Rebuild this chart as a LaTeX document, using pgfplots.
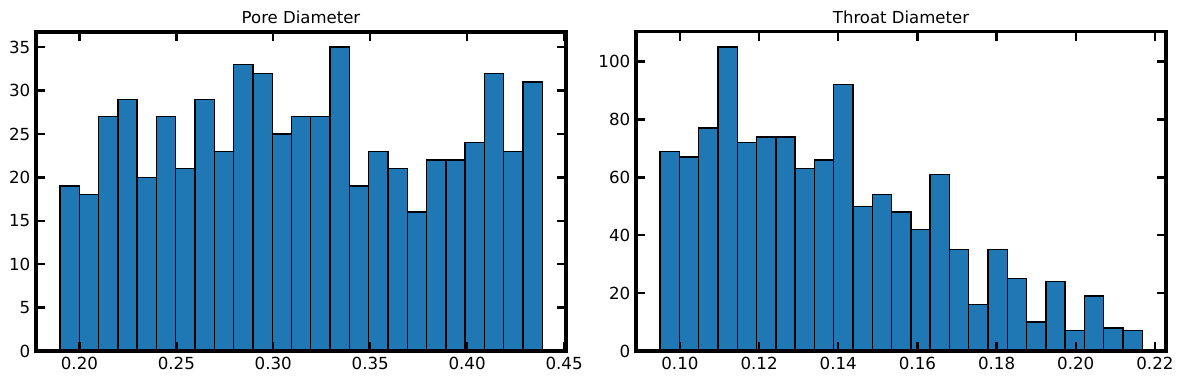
\documentclass[border=0pt]{standalone}
\usepackage{fontspec}
\setmainfont{DejaVu Sans}
\usepackage{pgfplots}
\pgfplotsset{compat=1.18}
\definecolor{mplblue}{HTML}{1F77B4}
\begin{document}
\fontsize{11.7}{14}\selectfont
\begin{tikzpicture}
\path[use as bounding box] (-25.92pt,-23.76pt) rectangle (825.84pt,252.72pt);
\pgfplotsset{
  hist/.style={
    scale only axis, width=381.6pt, height=229.7pt,
    axis on top,
    axis line style={line width=2.2pt},
    tick style={line width=1.7pt, black},
    major tick length=6.4pt,
    tick align=inside,
    tick pos=both,
    ymin=0,
    /pgf/number format/assume math mode=true,
    xticklabel style={/pgf/number format/.cd, fixed, fixed zerofill, precision=2},
    scaled x ticks=false,
    ticklabel style={font=\fontsize{12}{14}\selectfont},
    title style={font=\fontsize{11.9}{14}\selectfont, yshift=-4.5pt},
    after end axis/.code={\draw[line width=2.2pt, line cap=rect] (rel axis cs:0,0) rectangle (rel axis cs:1,1);},
  },
  histbar/.style={ybar interval, fill=mplblue, draw=black, line width=1pt},
}
\begin{axis}[hist,
  title={Pore Diameter},
  xmin=0.1776, xmax=0.451, ymax=36.75,
  xtick={0.20,0.25,0.30,0.35,0.40,0.45},
  ytick={0,5,10,15,20,25,30,35}]
\addplot[histbar] coordinates {
(0.19000,19) (0.19995,18) (0.20990,27) (0.21985,29) (0.22980,20)
(0.23975,27) (0.24970,21) (0.25965,29) (0.26960,23) (0.27955,33)
(0.28950,32) (0.29945,25) (0.30940,27) (0.31935,27) (0.32930,35)
(0.33925,19) (0.34920,23) (0.35915,21) (0.36910,16) (0.37905,22)
(0.38900,22) (0.39895,24) (0.40890,32) (0.41885,23) (0.42880,31)
(0.43875,0)};
\end{axis}
\begin{axis}[hist, at={(432pt,0pt)},
  title={Throat Diameter},
  xmin=0.0889, xmax=0.2228, ymax=110.25,
  xtick={0.10,0.12,0.14,0.16,0.18,0.20,0.22},
  ytick={0,20,40,60,80,100}]
\addplot[histbar] coordinates {
(0.09500,69) (0.09987,67) (0.10474,77) (0.10962,105) (0.11449,72)
(0.11936,74) (0.12423,74) (0.12910,63) (0.13398,66) (0.13885,92)
(0.14372,50) (0.14859,54) (0.15346,48) (0.15834,42) (0.16321,61)
(0.16808,35) (0.17295,16) (0.17782,35) (0.18270,25) (0.18757,10)
(0.19244,24) (0.19731,7) (0.20218,19) (0.20706,8) (0.21193,7)
(0.21680,0)};
\end{axis}
\end{tikzpicture}
\end{document}
